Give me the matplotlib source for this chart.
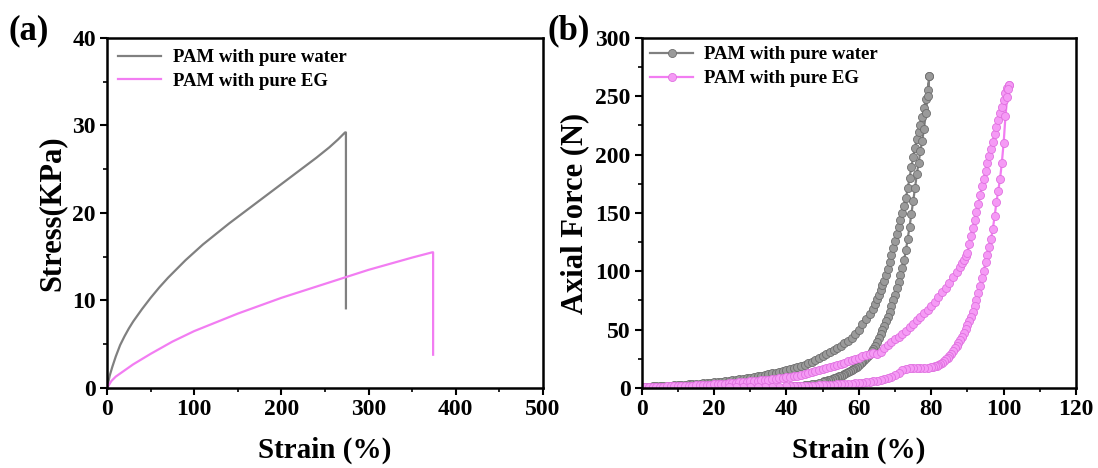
import numpy as np
import matplotlib.pyplot as plt
from matplotlib.ticker import MultipleLocator

plt.rcParams['font.family'] = ['Liberation Serif', 'DejaVu Serif']
plt.rcParams['font.weight'] = 'bold'

GRAY = '#808080'
PINK = '#F27DF2'

# (a) tensile stress-strain
water_strain = [0, 3, 6, 10, 15, 20, 25, 30, 40, 50, 60, 70, 80, 90, 100, 110, 120, 140, 160, 180,
                200, 220, 240, 255, 265, 273, 274, 274]
water_stress = [0, 1.4, 2.4, 3.6, 4.9, 5.9, 6.8, 7.6, 9.0, 10.3, 11.5, 12.6, 13.6, 14.6, 15.5, 16.4,
                17.2, 18.8, 20.3, 21.8, 23.3, 24.8, 26.3, 27.5, 28.4, 29.2, 29.2, 9.1]
eg_strain = [0, 5, 10, 20, 30, 40, 50, 75, 100, 125, 150, 175, 200, 225, 250, 275, 300, 325, 350,
             373, 374, 374]
eg_stress = [0, 0.8, 1.3, 2.0, 2.7, 3.3, 3.9, 5.3, 6.5, 7.5, 8.5, 9.4, 10.3, 11.1, 11.9, 12.7, 13.5,
             14.2, 14.9, 15.5, 15.5, 3.8]

# (b) compression loading / unloading loops
water_load_x = [0, 1, 2, 3, 4, 5, 6, 7, 8, 9, 10, 11, 12, 13, 14, 15, 16, 17, 18, 19, 20, 21, 22, 23,
                24, 25, 26, 27, 28, 29, 30, 31, 32, 33, 34, 35, 36, 37, 38, 39, 40, 41, 42, 43, 44,
                45, 46, 47, 48, 49, 50, 51, 52, 53, 54, 55, 56, 57, 58, 59, 60, 61, 62, 63, 64, 64.5,
                65, 65.5, 66, 66.5, 67, 67.5, 68, 68.5, 69, 69.5, 70, 70.5, 71, 71.5, 72, 72.5, 73,
                73.5, 74, 74.5, 75, 75.5, 76, 76.5, 77, 77.5, 78, 78.5, 79, 79.5]
water_load_y = [1.0, 1.1, 1.2, 1.35, 1.5, 1.65, 1.8, 1.95, 2.1, 2.3, 2.5, 2.7, 2.9, 3.1, 3.3, 3.55,
                3.8, 4.05, 4.3, 4.6, 4.9, 5.2, 5.5, 5.85, 6.2, 6.6, 7.0, 7.45, 7.9, 8.4, 8.9, 9.45,
                10.0, 10.6, 11.2, 11.85, 12.5, 13.2, 13.9, 14.6, 15.3, 16.1, 17.0, 18.0, 19.0, 20.1,
                21.3, 22.6, 24.0, 25.5, 27, 28.7, 30.5, 32.4, 34.3, 36.2, 38.2, 40.3, 42.5, 46, 50,
                54.5, 59, 63.5, 68, 72, 76, 80, 84, 88, 92, 97, 102, 108, 114, 120, 126, 132, 138,
                144, 150, 156, 163, 171, 180, 189, 198, 206, 213, 219, 225, 232, 240, 247.5, 255, 267]
water_unload_x = [79.5, 79, 78.5, 78, 77.5, 77, 76.5, 76, 75.5, 75, 74.5, 74, 73.5, 73, 72.5, 72, 71.5,
                  71, 70.5, 70, 69.5, 69, 68.5, 68, 67.5, 67, 66.5, 66, 65.5, 65, 64.5, 64, 63.5, 63,
                  62.5, 62, 61.5, 61, 60.5, 60, 59.5, 59, 58.5, 58, 57.5, 57, 56.5, 56, 55.5, 55, 54.5,
                  54, 53.5, 53, 52.5, 52, 51.5, 51, 50.5, 50, 49, 48, 47, 46, 45, 44, 43, 42, 41, 40]
water_unload_y = [267, 250, 236, 222, 212, 203, 193, 183, 171, 160, 149, 138, 128, 118, 110, 103, 97,
                  91, 85.5, 80, 75, 70, 65.5, 61, 57, 53, 49.5, 46, 42.5, 39, 36, 33.5, 31.3, 29.5,
                  27.5, 25.8, 24, 22.5, 21, 19.5, 18.3, 17.2, 16, 15, 14.2, 13.5, 12.7, 12, 11.2, 10.5,
                  9.9, 9.4, 8.8, 8.3, 7.7, 7.2, 6.7, 6.2, 5.7, 5.3, 4.5, 3.8, 3.2, 2.7, 2.3, 1.9, 1.6,
                  1.4, 1.2, 1.0]
eg_load_x = [0, 1, 2, 3, 4, 5, 6, 7, 8, 9, 10, 11, 12, 13, 14, 15, 16, 17, 18, 19, 20, 21, 22, 23, 24,
             25, 26, 27, 28, 29, 30, 31, 32, 33, 34, 35, 36, 37, 38, 39, 40, 41, 42, 43, 44, 45, 46,
             47, 48, 49, 50, 51, 52, 53, 54, 55, 56, 57, 58, 59, 60, 61, 62, 63, 64, 65, 66, 67, 68,
             69, 70, 71, 72, 73, 74, 75, 76, 77, 78, 79, 80, 81, 82, 83, 84, 85, 86, 87, 88, 88.5,
             89, 89.5, 90, 90.5, 91, 91.5, 92, 92.5, 93, 93.5, 94, 94.5, 95, 95.5, 96, 96.5, 97,
             97.5, 98, 98.5, 99, 99.5, 100, 100.5, 101, 101.5]
eg_load_y = [0.8, 0.85, 0.9, 0.95, 1.0, 1.1, 1.2, 1.3, 1.4, 1.5, 1.6, 1.7, 1.8, 1.95, 2.1, 2.25, 2.4,
             2.55, 2.7, 2.85, 3.0, 3.2, 3.4, 3.65, 3.9, 4.15, 4.4, 4.7, 5.0, 5.3, 5.6, 5.9, 6.2, 6.55,
             6.9, 7.25, 7.6, 7.95, 8.3, 8.65, 9.0, 9.5, 10.0, 10.6, 11.2, 11.9, 12.6, 13.4, 14.2,
             15.1, 16, 16.9, 17.8, 18.7, 19.6, 20.7, 21.8, 22.9, 24, 25, 26, 27.2, 28.5, 29.4, 29.6,
             29.5, 31, 34, 36.5, 39, 42, 44, 46.5, 49, 52, 55, 58, 61, 64, 67, 70.5, 74, 78, 82, 86,
             90, 95, 99, 104, 107, 110, 113, 116, 123, 130, 137, 144, 151, 158, 165.5, 173, 179.5,
             186, 192.5, 199, 205, 211, 217.5, 224, 230, 236, 241, 247, 253, 257, 260]
eg_unload_x = [101.5, 101.2, 101, 100.5, 100, 99.5, 99, 98.5, 98, 97.5, 97, 96.5, 96, 95.5, 95, 94.5,
               94, 93.5, 93, 92.5, 92, 91.5, 91, 90.5, 90, 89.5, 89, 88.5, 88, 87.5, 87, 86.5, 86,
               85.5, 85, 84.5, 84, 83.5, 83, 82.5, 82, 81.5, 81, 80.5, 80, 79, 78, 77, 76, 75, 74,
               73, 72, 71, 70, 69, 68, 67, 66, 65, 64, 63, 62, 61, 60, 59, 58, 57, 56, 55, 54, 53, 52,
               51, 50, 49, 48, 47, 46, 45, 44, 43, 42, 41, 40, 38, 36, 34, 32, 30, 28, 26, 24]
eg_unload_y = [260, 256, 249, 233, 210, 193, 179, 169, 159, 147, 136, 128, 121, 114, 108, 100, 94, 87,
               81, 75, 70, 65, 61, 57.5, 54, 50.5, 47, 44, 41, 38.5, 36, 34, 31.7, 29.5, 27.5, 26,
               24.5, 23, 21.7, 20.5, 19.6, 19, 18.5, 18.2, 18, 17.5, 17.2, 17, 17, 17, 16.8, 16.5, 15,
               13, 11, 9.5, 8.4, 7.5, 6.8, 6.2, 5.6, 5.1, 4.7, 4.45, 4.2, 3.95, 3.7, 3.5, 3.3, 3.15,
               3.0, 2.85, 2.7, 2.55, 2.4, 2.25, 2.1, 2.0, 1.9, 1.8, 1.7, 1.6, 1.5, 1.4, 1.3, 1.15, 1.0,
               0.95, 0.9, 0.85, 0.8, 0.8, 0.8]

fig = plt.figure(figsize=(10.98, 4.68), dpi=100)
ax1 = fig.add_axes([0.0975, 0.171, 0.397, 0.748])
ax2 = fig.add_axes([0.5844, 0.171, 0.3956, 0.748])


def style_axes(ax):
    for sp in ax.spines.values():
        sp.set_linewidth(1.8)
    ax.tick_params(which='major', direction='out', length=5, width=1.5, labelsize=17,
                   top=False, right=False, pad=3)
    ax.tick_params(which='minor', direction='out', length=3, width=1.2, top=False, right=False)
    for lab in ax.get_xticklabels() + ax.get_yticklabels():
        lab.set_fontweight('bold')


# panel (a)
ax1.plot(water_strain, water_stress, color=GRAY, lw=1.6, label='PAM with pure water')
ax1.plot(eg_strain, eg_stress, color=PINK, lw=1.6, label='PAM with pure EG')
ax1.set_xlim(0, 500)
ax1.set_ylim(0, 40)
ax1.xaxis.set_major_locator(MultipleLocator(100))
ax1.xaxis.set_minor_locator(MultipleLocator(50))
ax1.yaxis.set_major_locator(MultipleLocator(10))
ax1.yaxis.set_minor_locator(MultipleLocator(5))
style_axes(ax1)
ax1.set_xlabel('Strain (%)', fontsize=21, fontweight='bold', labelpad=12)
ax1.set_ylabel('Stress(KPa)', fontsize=22, fontweight='bold', labelpad=4)
ax1.legend(loc='upper left', frameon=False, prop={'size': 13.5, 'weight': 'bold'},
           handlelength=2.3, borderaxespad=0.2, labelspacing=0.35, handletextpad=0.6)
fig.text(0.008, 0.915, '(a)', fontsize=25, fontweight='bold')

# panel (b)
mk = dict(marker='o', markersize=5.8, lw=1.6, markeredgewidth=0.6)
ax2.plot(water_load_x + water_unload_x, water_load_y + water_unload_y, color=GRAY,
         markerfacecolor='#9a9a9a', markeredgecolor='#6e6e6e', label='PAM with pure water', **mk)
ax2.plot(eg_load_x + eg_unload_x, eg_load_y + eg_unload_y, color=PINK,
         markerfacecolor='#f59af5', markeredgecolor='#e070e0', label='PAM with pure EG', **mk)
ax2.set_xlim(0, 120)
ax2.set_ylim(0, 300)
ax2.xaxis.set_major_locator(MultipleLocator(20))
ax2.xaxis.set_minor_locator(MultipleLocator(10))
ax2.yaxis.set_major_locator(MultipleLocator(50))
ax2.yaxis.set_minor_locator(MultipleLocator(25))
style_axes(ax2)
ax2.set_xlabel('Strain (%)', fontsize=21, fontweight='bold', labelpad=12)
ax2.set_ylabel('Axial Force (N)', fontsize=22, fontweight='bold', labelpad=4)
ax2.legend(loc='upper left', frameon=False, prop={'size': 13.5, 'weight': 'bold'},
           handlelength=2.3, borderaxespad=0.05, labelspacing=0.35, handletextpad=0.6)
fig.text(0.499, 0.915, '(b)', fontsize=25, fontweight='bold')

fig.savefig('out.png', dpi=100)
